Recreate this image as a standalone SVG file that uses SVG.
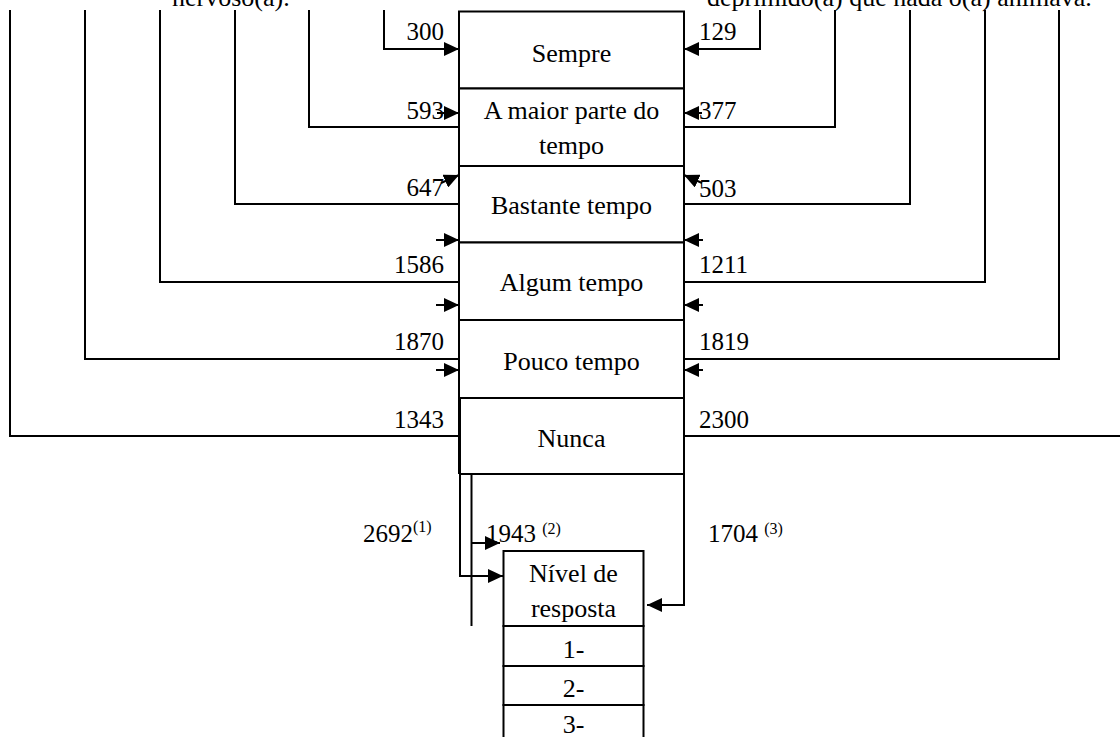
<svg xmlns="http://www.w3.org/2000/svg" width="1120" height="737" viewBox="0 0 1120 737">
<style>
.t{font-family:"Liberation Serif","Times New Roman",serif;font-size:26px;fill:#000}
.n{font-family:"Liberation Serif","Times New Roman",serif;font-size:25px;fill:#000}
.s{font-family:"Liberation Serif","Times New Roman",serif;font-size:16px;fill:#000}
.c{text-anchor:middle}
.e{text-anchor:end}
.box{fill:#fff;stroke:#000;stroke-width:2}
.ln{fill:none;stroke:#000;stroke-width:2}
.ar{fill:none;stroke:#000;stroke-width:2;marker-end:url(#ah)}
</style>
<defs>
<marker id="ah" viewBox="0 0 15 14" refX="15" refY="7" markerWidth="15" markerHeight="14" markerUnits="userSpaceOnUse" orient="auto">
<path d="M0,0 L15,7 L0,14 z" fill="#000"/>
</marker>
</defs>
<rect width="1120" height="737" fill="#fff"/>
<g id="questions">
<text class="t" x="172" y="6">nervoso(a).</text>
<text class="t" x="707" y="6">deprimido(a) que nada o(a) animava.</text>
</g>
<g id="connectors">
<path class="ar" d="M384,10 V49 H459"/>
<path class="ln" d="M309,10 V127 H459"/>
<path class="ln" d="M235,10 V204 H459"/>
<path class="ln" d="M160,10 V282 H459"/>
<path class="ln" d="M85,10 V359 H459"/>
<path class="ln" d="M10,10 V436 H459"/>
<path class="ar" d="M760,10 V49 H684"/>
<path class="ln" d="M835,10 V127 H684"/>
<path class="ln" d="M910,10 V204 H684"/>
<path class="ln" d="M985,10 V282 H684"/>
<path class="ln" d="M1059,10 V359 H684"/>
<path class="ln" d="M1120,436 H684"/>
<path class="ar" d="M437,113 H459"/>
<path class="ar" d="M441,183 L459,175"/>
<path class="ar" d="M436,240 H459"/>
<path class="ar" d="M436,305 H459"/>
<path class="ar" d="M436,370 H459"/>
<path class="ar" d="M702,113 H684"/>
<path class="ar" d="M702,183 L684,175"/>
<path class="ar" d="M703,240 H684"/>
<path class="ar" d="M703,305 H684"/>
<path class="ar" d="M703,370 H684"/>
<path class="ar" d="M460,474 V576 H503"/>
<path class="ln" d="M471.5,474 V626"/>
<path class="ar" d="M471.5,543 H500"/>
<path class="ar" d="M684,474 V605 H647"/>
</g>
<g id="left-labels">
<text class="n e" x="444" y="40">300</text>
<text class="n e" x="444" y="119">593</text>
<text class="n e" x="444" y="196">647</text>
<text class="n e" x="444" y="273">1586</text>
<text class="n e" x="444" y="350">1870</text>
<text class="n e" x="444" y="428">1343</text>
</g>
<g id="right-labels">
<text class="n" x="699" y="40">129</text>
<text class="n" x="699" y="119">377</text>
<text class="n" x="699" y="197">503</text>
<text class="n" x="699" y="273">1211</text>
<text class="n" x="699" y="350">1819</text>
<text class="n" x="699" y="428">2300</text>
</g>
<g id="node-sempre">
<rect class="box" x="459" y="11.5" width="225" height="77"/>
<text class="t c" x="571.5" y="62">Sempre</text>
</g>
<g id="node-maior-parte">
<rect class="box" x="459" y="88.5" width="225" height="77.5"/>
<text class="t c" x="571.5" y="119">A maior parte do</text>
<text class="t c" x="571.5" y="154">tempo</text>
</g>
<g id="node-bastante">
<rect class="box" x="459" y="166" width="225" height="76.5"/>
<text class="t c" x="571.5" y="214">Bastante tempo</text>
</g>
<g id="node-algum">
<rect class="box" x="459" y="242.5" width="225" height="77.5"/>
<text class="t c" x="571.5" y="291">Algum tempo</text>
</g>
<g id="node-pouco">
<rect class="box" x="459" y="320" width="225" height="78"/>
<text class="t c" x="571.5" y="370">Pouco tempo</text>
</g>
<g id="node-nunca">
<rect class="box" x="460" y="398" width="224" height="76"/>
<path class="ln" d="M459,398 V474"/>
<text class="t c" x="571.5" y="447">Nunca</text>
</g>
<g id="bottom-labels">
<text class="n" x="363" y="542">2692<tspan class="s" dy="-10">(1)</tspan></text>
<text class="n" x="486" y="542">1943 <tspan class="s" dy="-8">(2)</tspan></text>
<text class="n" x="708" y="542">1704 <tspan class="s" dy="-8">(3)</tspan></text>
</g>
<g id="node-nivel">
<rect class="box" x="503.5" y="551" width="140" height="75"/>
<text class="t c" x="573.5" y="582">Nível de</text>
<text class="t c" x="573.5" y="617">resposta</text>
</g>
<g id="node-nivel-1">
<rect class="box" x="503.5" y="626" width="140" height="40"/>
<text class="t c" x="573.5" y="658">1-</text>
</g>
<g id="node-nivel-2">
<rect class="box" x="503.5" y="666" width="140" height="39"/>
<text class="t c" x="573.5" y="697">2-</text>
</g>
<g id="node-nivel-3">
<rect class="box" x="503.5" y="705" width="140" height="40"/>
<text class="t c" x="573.5" y="733">3-</text>
</g>
</svg>
